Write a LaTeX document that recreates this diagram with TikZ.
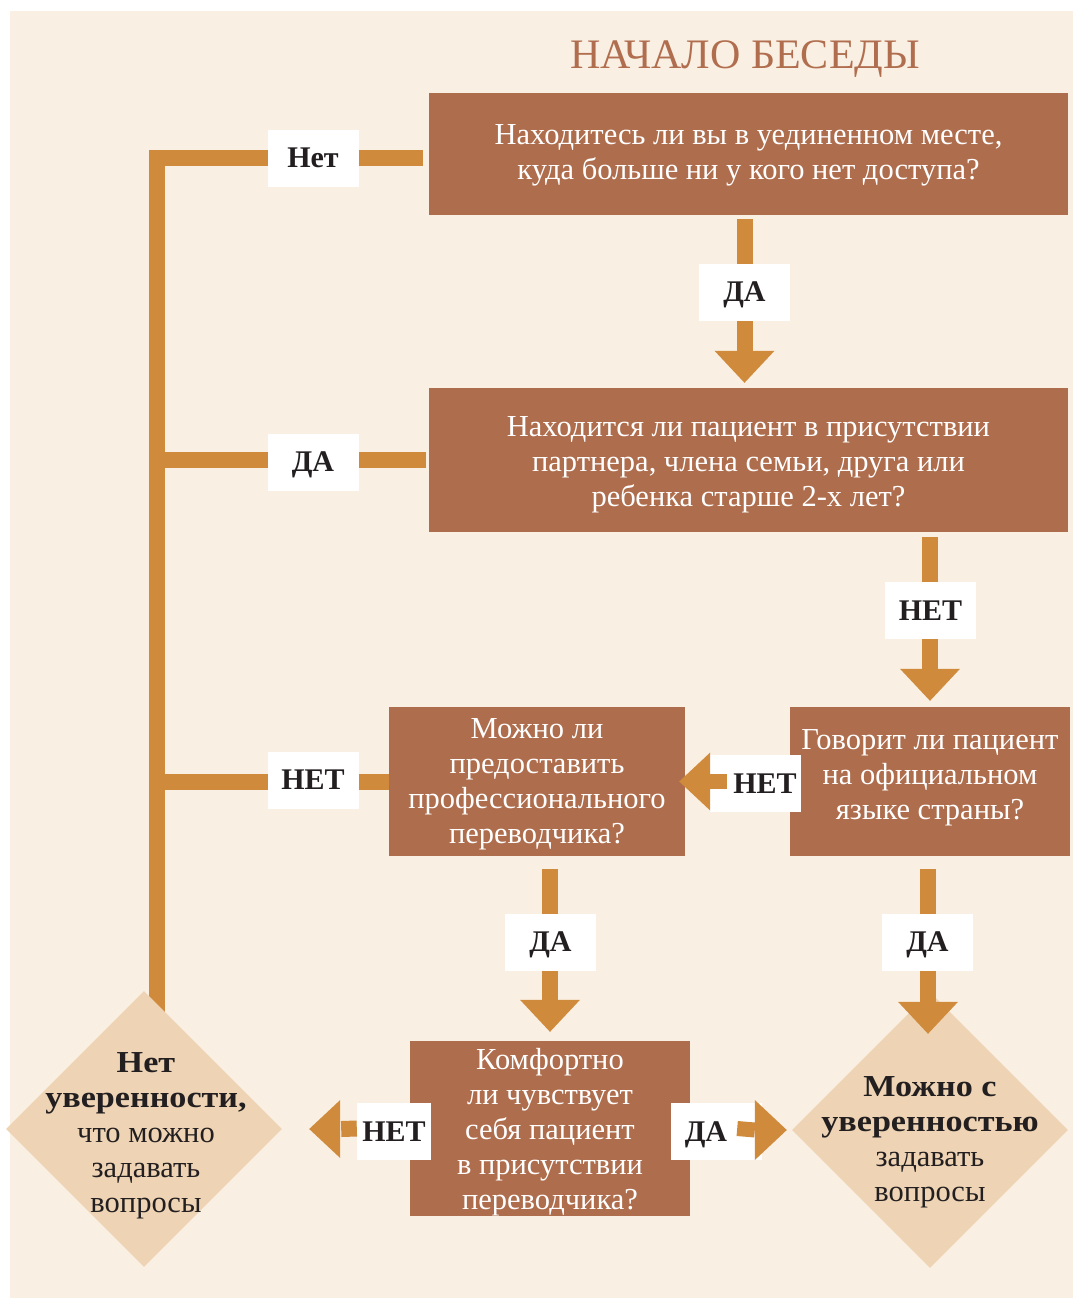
\documentclass[tikz,border=0pt]{standalone}
\usepackage{fontspec}
\setmainfont{Liberation Serif}
\newfontfamily\wideserif{Liberation Serif}[FakeStretch=1.12]
\usetikzlibrary{calc,shapes.geometric}
\definecolor{bgc}{HTML}{FAEFE3}
\definecolor{boxc}{HTML}{AE6D4D}
\definecolor{connc}{HTML}{CF8B3B}
\definecolor{diac}{HTML}{EED4B5}
\definecolor{ink}{HTML}{231F20}
\definecolor{titlec}{HTML}{B06E4E}
\newcommand\mkheaddown[1]{\fill[connc] ($(#1)+(-30,-32)$) -- (#1) -- ($(#1)+(30,-32)$) -- cycle;}
\newcommand\mkheadleft[1]{\fill[connc] ($(#1)+(31,-29)$) -- (#1) -- ($(#1)+(31,29)$) -- cycle;}
\newcommand\mkheadright[1]{\fill[connc] ($(#1)+(-32,-30)$) -- (#1) -- ($(#1)+(-32,30)$) -- cycle;}
\newcommand\dbold[1]{{\wideserif\bfseries #1}}
\begin{document}
\begin{tikzpicture}[x=1pt,y=-1pt,
  qbox/.style={fill=boxc, draw=none, inner sep=0pt},
  qtext/.style={text=white, align=center, inner sep=0pt, font=\fontsize{30.5}{35}\selectfont},
  lbl/.style={fill=white, text=ink, inner sep=0pt, text depth=0pt, minimum height=57pt, minimum width=91pt, font=\fontsize{30}{30}\selectfont\bfseries},
  conn/.style={draw=connc, line width=16pt},
  diam/.style={fill=diac, draw=none, shape=diamond, inner sep=0pt, minimum width=276pt, minimum height=276pt},
  dtext/.style={text=ink, align=center, inner sep=0pt, font=\fontsize{30.5}{35}\selectfont}]
\useasboundingbox (0,0) rectangle (1073,1298);
\fill[white] (0,0) rectangle (1073,1298);
\fill[bgc] (10,11) rectangle (1073,1298);

% title
\node[text=titlec, font=\fontsize{42}{42}\selectfont] (title) at (745,59) {НАЧАЛО БЕСЕДЫ};

% question boxes
\node[qbox, minimum width=639pt, minimum height=122pt] (b1) at (748.5,154) {};
\node[qbox, minimum width=639pt, minimum height=144pt] (b2) at (748.5,460) {};
\node[qbox, minimum width=280pt, minimum height=149pt] (b3) at (930,781.5) {};
\node[qbox, minimum width=296pt, minimum height=149pt] (b4) at (537,781.5) {};
\node[qbox, minimum width=280pt, minimum height=175pt] (b5) at (550,1128.5) {};

\node[qtext] (b1t) at ($(b1)+(0,1)$)
  {Находитесь ли вы в уединенном месте,\\куда больше ни у кого нет доступа?};
\node[qtext] (b2t) at ($(b2)+(0,5)$)
  {Находится ли пациент в присутствии\\партнера, члена семьи, друга или\\ребенка старше 2-х лет?};
\node[qtext] (b3t) at ($(b3)+(0,-4)$)
  {Говорит ли пациент\\на официальном\\языке страны?};
\node[qtext] (b4t) at ($(b4)+(0,3)$)
  {Можно ли\\предоставить\\профессионального\\переводчика?};
\node[qtext] (b5t) at ($(b5)+(0,4)$)
  {Комфортно\\ли чувствует\\себя пациент\\в присутствии\\переводчика?};

% diamonds (centres)
\coordinate (d1c) at (144,1129);
\coordinate (d2c) at (930,1130);

% left collector lines (behind diamond)
\draw[conn, line join=miter] ($(b1.west)+(-6,4)$) -| ($(d1c)+(13,-110)$);
\draw[conn] ($(b2.west)+(-3,0)$) -- ++(-272,0);
\draw[conn] (b4.west) -- ++(-232,0);

\node[diam] (d1) at (d1c) {};
\node[diam] (d2) at (d2c) {};

% left labels
\node[lbl] (l1) at (313,158) {Нет};
\node[lbl] (l2) at (313,462) {ДА};
\node[lbl] (l3) at (313,780) {НЕТ};

% arrow b1 -> b2
\coordinate (t1) at ($(b2.north)+(-4,-5)$);
\draw[conn] ($(b1.south)+(-4,4)$) -- ($(t1)+(0,-32)$);
\mkheaddown{t1}
\node[lbl] (l4) at (744.5,292) {ДА};

% arrow b2 -> b3
\coordinate (t2) at ($(b3.north)+(0,-6)$);
\draw[conn] ($(b2.south)+(181.5,5)$) -- ($(t2)+(0,-32)$);
\mkheaddown{t2}
\node[lbl] (l5) at (930.5,610.5) {НЕТ};

% arrow b3 -> b4
\node[lbl] (l6) at (755.5,783.5) {\hspace*{19pt}НЕТ};
\coordinate (t3) at ($(b4.east)+(-6,0)$);
\draw[conn, line width=15pt] ($(t3)+(48,0)$) -- ($(t3)+(31,0)$);
\mkheadleft{t3}

% arrow b4 -> b5
\coordinate (t4) at ($(b5.north)+(0,-9)$);
\draw[conn] ($(b4.south)+(13,13)$) -- ($(t4)+(0,-32)$);
\mkheaddown{t4}
\node[lbl] (l7) at (550.5,942) {ДА};

% arrow b3 -> d2
\coordinate (t5) at ($(d2.north)+(-2,42)$);
\draw[conn] ($(b3.south)+(-2,13)$) -- ($(t5)+(0,-32)$);
\mkheaddown{t5}
\node[lbl] (l8) at (927.5,942) {ДА};

% arrow b5 -> d1
\node[lbl, minimum width=74pt] (l9) at (394,1131.5) {НЕТ};
\coordinate (t6) at ($(d1.east)+(27,0)$);
\draw[conn] ($(b5.west)+(-53,0)$) -- ($(t6)+(32,0)$);
\mkheadleft{t6}

% arrow b5 -> d2
\node[lbl] (l10) at (716.5,1131.5) {ДА\hspace*{21pt}};
\coordinate (t7) at ($(d2.west)+(-5,0)$);
\draw[conn, line width=15pt] ($(b5.east)+(47,0)$) -- ($(t7)+(-32,0)$);
\mkheadright{t7}

% diamond texts
\node[dtext] (dt1) at (146,1136) {\dbold{Нет}\\\dbold{уверенности,}\\что можно\\задавать\\вопросы};
\node[dtext] (dt2) at (930,1142) {\dbold{Можно с}\\\dbold{уверенностью}\\задавать\\вопросы};
\end{tikzpicture}
\end{document}
